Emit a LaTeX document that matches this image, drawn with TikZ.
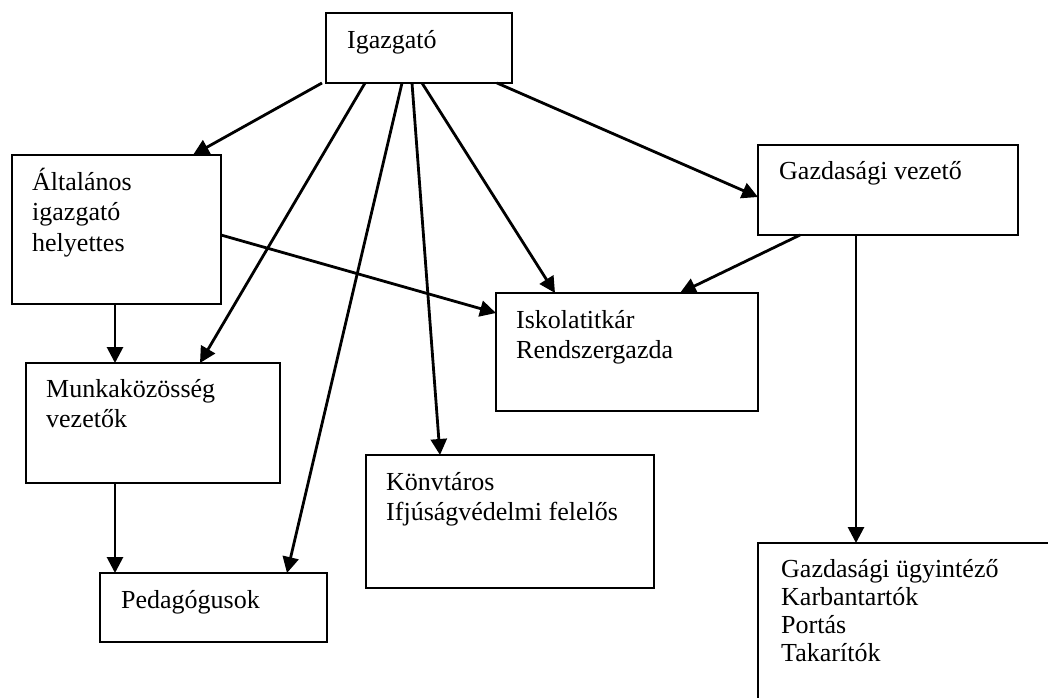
\documentclass[tikz,border=0pt]{standalone}
\usepackage{fontspec}
\setmainfont{Liberation Serif}
\usetikzlibrary{arrows.meta,calc}
\tikzset{
  box/.style={draw=black, line width=2.4pt, inner sep=0pt, outer sep=0pt, anchor=north west, fill=none},
  txt/.style={anchor=base west, inner sep=0pt, font=\fontsize{26}{30.5}\selectfont},
  arr/.style={line width=2.8pt, -{Triangle[length=16pt,width=16pt]}}
}
\begin{document}
\begin{tikzpicture}[x=1pt,y=-1pt]
\useasboundingbox (0,0) rectangle (1048,697);
% boxes
\node[box, minimum width=186pt, minimum height=70pt] (ig) at (326,13) {};
\node[box, minimum width=209pt, minimum height=149pt] (alt) at (12,155) {};
\node[box, minimum width=260pt, minimum height=90pt] (gv) at (758,145) {};
\node[box, minimum width=262pt, minimum height=118pt] (isk) at (496,293) {};
\node[box, minimum width=254pt, minimum height=120pt] (mk) at (26,363) {};
\node[box, minimum width=288pt, minimum height=133pt] (kv) at (366,455) {};
\node[box, minimum width=227pt, minimum height=69pt] (ped) at (100,573) {};
\node[box, minimum width=310pt, minimum height=180pt] (gu) at (758,543) {};
% texts
\node[txt] (tig) at (347,48) {Igazgató};
\node[txt] (talt) at (32,190) {\begin{tabular}[t]{@{}l@{}}Általános\\igazgató\\helyettes\end{tabular}};
\node[txt] (tgv) at (779,179) {Gazdasági vezető};
\node[txt] (tisk) at (516,328) {\begin{tabular}[t]{@{}l@{}}Iskolatitkár\\Rendszergazda\end{tabular}};
\node[txt] (tmk) at (46,397) {\begin{tabular}[t]{@{}l@{}}Munkaközösség\\vezetők\end{tabular}};
\node[txt] (tkv) at (386,490) {\begin{tabular}[t]{@{}l@{}}Könvtáros\\Ifjúságvédelmi felelős\end{tabular}};
\node[txt] (tped) at (121,608) {Pedagógusok};
\node[txt, font=\fontsize{26}{28}\selectfont] (tgu) at (781,577) {\begin{tabular}[t]{@{}l@{}}Gazdasági ügyintéző\\Karbantartók\\Portás\\Takarítók\end{tabular}};
% connectors
\draw[arr] ($(ig.south west)+(-4,0)$) -- ($(alt.north west)+(181,0)$);
\draw[arr] ($(ig.south west)+(39,0)$) -- ($(mk.north west)+(174,0)$);
\draw[arr] ($(ig.south west)+(76,0)$) -- ($(ped.north west)+(187,0)$);
\draw[arr] ($(ig.south west)+(86,0)$) -- ($(kv.north west)+(74,0)$);
\draw[arr] ($(ig.south west)+(96,0)$) -- ($(isk.north west)+(59,0)$);
\draw[arr] ($(ig.south west)+(171,0)$) -- ($(gv.north west)+(0,52)$);
\draw[arr] ($(alt.north east)+(0,80)$) -- ($(isk.north west)+(0,20)$);
\draw[arr] ($(gv.south west)+(42,0)$) -- ($(isk.north west)+(184,0)$);
\draw[arr] ($(gv.south west)+(98,0)$) -- ($(gu.north west)+(98,0)$);
\draw[arr] ($(alt.south west)+(103,0)$) -- ($(mk.north west)+(89,0)$);
\draw[arr] ($(mk.south west)+(89,0)$) -- ($(ped.north west)+(15,0)$);
\end{tikzpicture}
\end{document}
